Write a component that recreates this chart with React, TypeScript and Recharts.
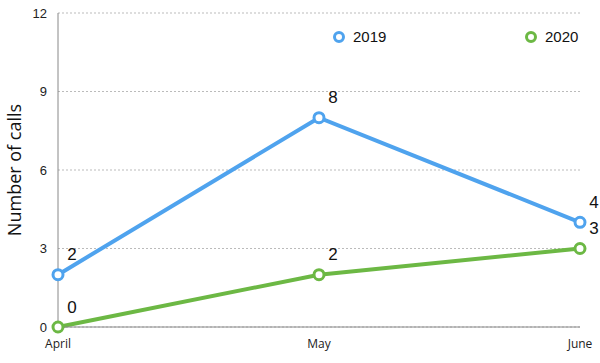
import * as React from "react";
import { LineChart, Line, XAxis, YAxis, CartesianGrid, Legend, LabelList } from "recharts";

const months = ["April", "May", "June"];
const calls2019 = [2, 8, 4];
const calls2020 = [0, 2, 3];
const yTicks = [0, 3, 6, 9, 12];

const data = months.map((m, i) => ({ month: m, y2019: calls2019[i], y2020: calls2020[i] }));

const BLUE = "#4fa3ee";
const GREEN = "#6cb844";

const renderLabel = (props: any) => {
  const { x, y, value } = props;
  return (
    <text x={x + 14} y={y - 20} textAnchor="middle" dominantBaseline="central"
      style={{ fontSize: 17, fontFamily: "Liberation Sans, Arial", fill: "#111" }}>
      {value}
    </text>
  );
};

const LegendContent = () => (
  <div style={{ position: "relative", height: 20, fontFamily: "Liberation Sans, Arial", fontSize: 15, color: "#111" }}>
    {[{ name: "2019", color: BLUE, left: 332 }, { name: "2020", color: GREEN, left: 524 }].map((it) => (
      <div key={it.name} style={{ position: "absolute", left: it.left, top: 0, display: "flex", alignItems: "center" }}>
        <svg width={14} height={14} style={{ marginRight: 7 }}>
          <circle cx={7} cy={7} r={4.5} fill="#fff" stroke={it.color} strokeWidth={3} />
        </svg>
        <span>{it.name}</span>
      </div>
    ))}
  </div>
);

export default function App() {
  return (
    <div style={{ position: "absolute", left: 0, top: 0, width: 600, height: 363, background: "#fff" }}>
      <LineChart width={600} height={363} data={data} margin={{ top: 13, right: 20, left: 0, bottom: 0 }}>
        <CartesianGrid vertical={false} stroke="#bbb" strokeDasharray="2 2" />
        <XAxis dataKey="month" axisLine={{ stroke: "#888" }} tickLine={false} height={36}
          tick={{ fontSize: 12, fontFamily: "Open Sans", fill: "#222" }} tickMargin={6} />
        <YAxis domain={[0, 12]} ticks={yTicks} width={58} axisLine={{ stroke: "#888" }} tickLine={false}
          tick={{ fontSize: 13, fontFamily: "Liberation Sans, Arial", fill: "#222" }} tickMargin={5}
          label={{ value: "Number of calls", angle: -90, position: "center", dx: -14,
            style: { fontSize: 18, fontFamily: "Open Sans", fill: "#111" } }} />
        <Legend verticalAlign="middle" layout="horizontal" content={<LegendContent />}
          wrapperStyle={{ top: 28, left: 0, width: 600 }} />
        <Line dataKey="y2019" name="2019" stroke={BLUE} strokeWidth={4} isAnimationActive={false}
          dot={{ r: 5, fill: "#fff", stroke: BLUE, strokeWidth: 3 }}>
          <LabelList dataKey="y2019" content={renderLabel} />
        </Line>
        <Line dataKey="y2020" name="2020" stroke={GREEN} strokeWidth={4} isAnimationActive={false}
          dot={{ r: 5, fill: "#fff", stroke: GREEN, strokeWidth: 3 }}>
          <LabelList dataKey="y2020" content={renderLabel} />
        </Line>
      </LineChart>
    </div>
  );
}
